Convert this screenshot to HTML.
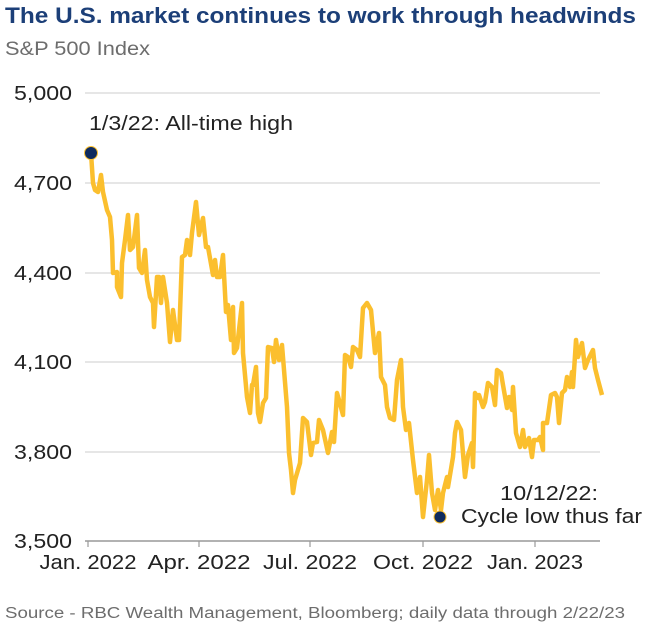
<!DOCTYPE html>
<html><head><meta charset="utf-8"><style>
body{margin:0;background:#fff;width:652px;height:630px;overflow:hidden}
svg{display:block;font-family:"Liberation Sans",sans-serif}
</style></head><body>
<svg width="652" height="630" viewBox="0 0 652 630">
<text x="5" y="23" font-size="22" font-weight="bold" fill="#1c3f78" textLength="631" lengthAdjust="spacingAndGlyphs">The U.S. market continues to work through headwinds</text>
<text x="5" y="55" font-size="19" fill="#6d6d6d" textLength="145" lengthAdjust="spacingAndGlyphs">S&amp;P 500 Index</text>
<g stroke="#d8d8d8" stroke-width="1.2">
<line x1="85" x2="600" y1="93" y2="93"/><line x1="85" x2="600" y1="183" y2="183"/><line x1="85" x2="600" y1="273" y2="273"/><line x1="85" x2="600" y1="362" y2="362"/><line x1="85" x2="600" y1="452" y2="452"/>
</g>
<line x1="85" x2="600" y1="541" y2="541" stroke="#999" stroke-width="1.5"/>
<g stroke="#999" stroke-width="1.2"><line x1="88" x2="88" y1="541" y2="547"/><line x1="199" x2="199" y1="541" y2="547"/><line x1="310" x2="310" y1="541" y2="547"/><line x1="423" x2="423" y1="541" y2="547"/><line x1="535" x2="535" y1="541" y2="547"/></g>
<g font-size="20" fill="#222" text-anchor="end">
<text x="72" y="100" textLength="58" lengthAdjust="spacingAndGlyphs">5,000</text><text x="72" y="190" textLength="58" lengthAdjust="spacingAndGlyphs">4,700</text><text x="72" y="280" textLength="58" lengthAdjust="spacingAndGlyphs">4,400</text><text x="72" y="369" textLength="58" lengthAdjust="spacingAndGlyphs">4,100</text><text x="72" y="459" textLength="58" lengthAdjust="spacingAndGlyphs">3,800</text><text x="72" y="548" textLength="58" lengthAdjust="spacingAndGlyphs">3,500</text>
</g>
<g font-size="20" fill="#222" text-anchor="middle">
<text x="88" y="569" textLength="97" lengthAdjust="spacingAndGlyphs">Jan. 2022</text><text x="199" y="569" textLength="103" lengthAdjust="spacingAndGlyphs">Apr. 2022</text><text x="310" y="569" textLength="94" lengthAdjust="spacingAndGlyphs">Jul. 2022</text><text x="423" y="569" textLength="100" lengthAdjust="spacingAndGlyphs">Oct. 2022</text><text x="535" y="569" textLength="96" lengthAdjust="spacingAndGlyphs">Jan. 2023</text>
</g>
<polyline fill="none" stroke="#fbbf2e" stroke-width="4.5" stroke-linejoin="round" points="91,153 93,183 95,190 98,192 101,175 103,192 107,210 110,217 112,240 113,273 117,272 117,287 121,297 122,263 125,240 128,215 130,250 133,247 137,215 139,268 142,273 145,250 147,280 150,297 153,303 154,327 157,277 159,277 161,303 163,277 167,303 170,342 173,310 177,340 179,340 182,257 185,255 187,240 190,255 192,233 196,202 199,235 203,218 206,247 208,247 213,275 215,260 217,277 220,277 223,255 226,312 228,305 231,340 233,307 234,353 237,348 242,303 243,353 247,397 250,413 252,385 253,385 256,367 258,413 260,422 263,403 266,398 268,347 272,348 274,362 276,340 279,360 282,345 287,407 289,453 291,470 293,493 295,480 300,463 303,418 307,422 311,455 313,443 317,442 319,420 323,430 328,453 332,432 334,442 337,393 339,400 343,415 345,355 348,357 351,367 353,347 357,350 360,357 363,308 367,303 371,310 375,353 379,333 381,377 385,385 387,407 390,418 394,420 397,380 401,360 403,407 406,430 409,423 413,460 417,493 420,477 423,517 427,480 429,455 432,493 435,510 438,490 441,510 443,493 447,477 448,487 453,457 455,433 457,422 461,430 465,477 468,455 472,443 473,467 475,393 478,398 479,395 483,407 485,402 488,383 492,387 495,405 497,370 501,373 503,385 507,408 509,397 512,410 513,387 516,433 520,447 523,430 525,447 529,438 532,457 534,440 538,440 540,437 543,450 543,423 547,423 551,395 555,393 557,397 559,423 562,393 565,390 567,377 570,387 572,372 573,387 576,340 578,357 582,343 585,368 588,360 593,350 595,368 598,380 602,395"/>
<circle cx="91" cy="153" r="6.5" fill="#0f2b5e" stroke="#fbbf2e" stroke-width="1"/>
<circle cx="440" cy="517" r="6" fill="#0f2b5e" stroke="#fbbf2e" stroke-width="1"/>
<text x="89" y="130" font-size="20" fill="#222" textLength="204" lengthAdjust="spacingAndGlyphs">1/3/22: All-time high</text>
<text x="598" y="500" font-size="20" fill="#222" text-anchor="end" textLength="98" lengthAdjust="spacingAndGlyphs">10/12/22:</text>
<text x="461" y="523" font-size="20" fill="#222" textLength="181" lengthAdjust="spacingAndGlyphs">Cycle low thus far</text>
<text x="5" y="618" font-size="15.5" fill="#6d6d6d" textLength="620" lengthAdjust="spacingAndGlyphs">Source - RBC Wealth Management, Bloomberg; daily data through 2/22/23</text>
</svg>
</body></html>
